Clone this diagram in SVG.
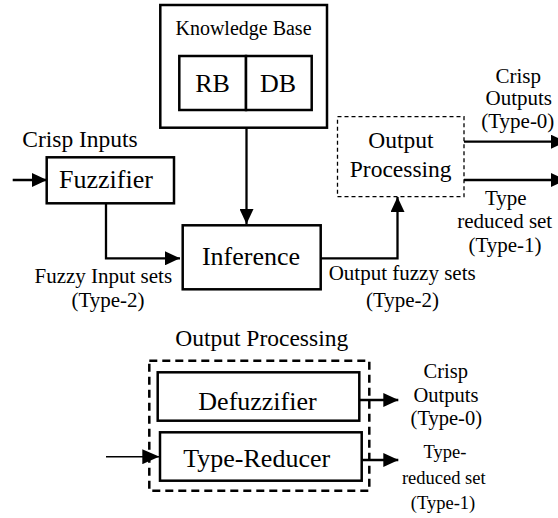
<svg xmlns="http://www.w3.org/2000/svg" width="558" height="518" viewBox="0 0 558 518">
  <defs>
    <style>
      text { fill: #000; text-anchor: middle; font-family: "Liberation Serif", "Times New Roman", serif; }
      .box { fill: #fff; stroke: #000; stroke-width: 2.5; }
      .dash-thin { fill: none; stroke: #000; stroke-width: 1.3; stroke-dasharray: 4 3; }
      .dash-thick { fill: none; stroke: #000; stroke-width: 2.5; stroke-dasharray: 8 5; }
      .wire { fill: none; stroke: #000; stroke-width: 2.3; }
      .wire-thin { fill: none; stroke: #000; stroke-width: 1.5; }
      .big { font-size: 26px; }
      .mid { font-size: 23.5px; }
      .lbl { font-size: 21px; }
      .sm { font-size: 18.5px; }
    </style>
    <marker id="arrow" viewBox="0 0 15 14" refX="15" refY="7" markerWidth="15" markerHeight="14" markerUnits="userSpaceOnUse" orient="auto">
      <path d="M0,0 L15,7 L0,14 Z" fill="#000"/>
    </marker>
    <marker id="arrow-lg" viewBox="0 0 17 15" refX="17" refY="7.5" markerWidth="17" markerHeight="15" markerUnits="userSpaceOnUse" orient="auto">
      <path d="M0,0 L17,7.5 L0,15 Z" fill="#000"/>
    </marker>
  </defs>

  <!-- upper system -->
  <g id="knowledge-base">
    <rect class="box" x="160.3" y="5" width="166.7" height="122.7"/>
    <text x="243.5" y="34.7" style="font-size:20px">Knowledge Base</text>
  </g>
  <g id="rb">
    <rect class="box" x="179.3" y="56" width="66.7" height="54"/>
    <text class="big" x="212.5" y="91.5">RB</text>
  </g>
  <g id="db">
    <rect class="box" x="246" y="56" width="65.7" height="54"/>
    <text class="big" x="278" y="91.5">DB</text>
  </g>

  <g id="fuzzifier">
    <text x="80" y="147.3" style="font-size:23.5px">Crisp Inputs</text>
    <rect class="box" x="46.7" y="157.3" width="127.3" height="46"/>
    <text class="big" x="106" y="188.3">Fuzzifier</text>
  </g>

  <g id="inference">
    <rect class="box" x="182.7" y="225.3" width="138" height="64"/>
    <text class="big" x="251" y="265">Inference</text>
  </g>

  <g id="output-processing">
    <rect class="dash-thin" x="337.5" y="116.7" width="126.5" height="80"/>
    <text class="mid" x="401" y="148.3">Output</text>
    <text class="mid" x="400.7" y="176.7">Processing</text>
  </g>

  <!-- lower detail of the output stage -->
  <g id="output-processing-detail">
    <text class="mid" x="261.7" y="346">Output Processing</text>
    <rect class="dash-thick" x="149.3" y="360.7" width="220" height="130"/>
  </g>
  <g id="defuzzifier">
    <rect class="box" x="157.7" y="372.3" width="201.6" height="48.4"/>
    <text class="big" x="257.5" y="410">Defuzzifier</text>
  </g>
  <g id="type-reducer">
    <rect class="box" x="160" y="432.3" width="201.7" height="48.4"/>
    <text class="big" x="256.7" y="466.7">Type-Reducer</text>
  </g>

  <!-- edge labels -->
  <g id="labels">
    <text class="lbl" x="103.3" y="283.3">Fuzzy Input sets</text>
    <text class="lbl" x="108" y="306.7">(Type-2)</text>
    <text class="lbl" x="402.2" y="280">Output fuzzy sets</text>
    <text class="lbl" x="402.5" y="307">(Type-2)</text>
    <text class="lbl" x="518.3" y="83">Crisp</text>
    <text class="lbl" x="518.8" y="105">Outputs</text>
    <text class="lbl" x="517.8" y="128">(Type-0)</text>
    <text class="lbl" x="505.8" y="205">Type</text>
    <text class="lbl" x="504.7" y="228.3">reduced set</text>
    <text class="lbl" x="505" y="252">(Type-1)</text>
    <text x="445.8" y="377.7" style="font-size:20.5px">Crisp</text>
    <text x="446" y="401.7" style="font-size:20.5px">Outputs</text>
    <text x="446.3" y="425" style="font-size:20.5px">(Type-0)</text>
    <text class="sm" x="445" y="458.3">Type-</text>
    <text class="sm" x="443.8" y="484">reduced set</text>
    <text class="sm" x="443" y="509.3">(Type-1)</text>
  </g>

  <!-- connectors -->
  <g id="connectors">
    <path class="wire" d="M12.7,180 H47" marker-end="url(#arrow)"/>
    <path class="wire" d="M106,203.3 V258.3 H180" marker-end="url(#arrow)"/>
    <path class="wire" d="M246.5,127.7 V224" marker-end="url(#arrow)"/>
    <path class="wire" d="M320.7,258.3 H397.5 V197" marker-end="url(#arrow)"/>
    <path class="wire" d="M464,141.7 H566" marker-end="url(#arrow)"/>
    <path class="wire" d="M464,180 H566" marker-end="url(#arrow)"/>
    <path class="wire-thin" d="M106,456.7 H159.3" marker-end="url(#arrow-lg)"/>
    <path class="wire" d="M359.3,400 H398.3" marker-end="url(#arrow)"/>
    <path class="wire" d="M361.7,460 H398.3" marker-end="url(#arrow)"/>
  </g>
</svg>
